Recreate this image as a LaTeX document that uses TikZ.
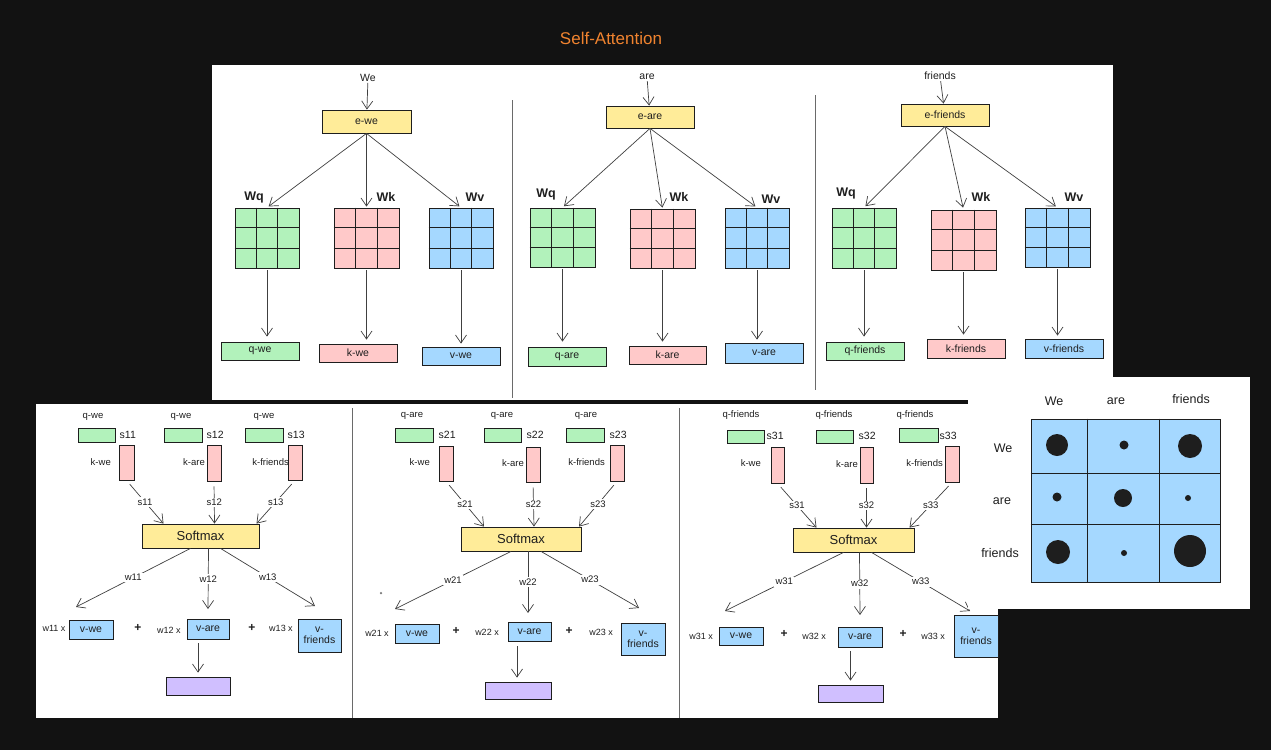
\documentclass[tikz,border=0pt]{standalone}
\usepackage{fontspec}
\setmainfont{Liberation Sans}
\usetikzlibrary{arrows.meta,calc}
\definecolor{bg}{HTML}{121212}
\definecolor{gfill}{HTML}{B2F2BB}
\definecolor{pfill}{HTML}{FFC9C9}
\definecolor{bfill}{HTML}{A5D8FF}
\definecolor{yfill}{HTML}{FFEC99}
\definecolor{vfill}{HTML}{D0BFFF}
\definecolor{ink}{HTML}{1E1E1E}
\definecolor{ttl}{HTML}{F0832F}
\definecolor{divider}{HTML}{6A6A6A}
\tikzset{
  box/.style={draw=ink, line width=0.8pt, inner sep=0pt, font=\fontsize{10.5}{11}\selectfont, text=ink, align=center},
  arr/.style={draw=ink!85, line width=0.7pt, -{Straight Barb[length=8pt,width=11pt]}},
  lbl/.style={font=\fontsize{9.5}{10}\selectfont, text=ink, inner sep=1pt},
  frm/.style={font=\fontsize{9}{10}\selectfont, text=ink, inner sep=1pt},
  slbl/.style={font=\fontsize{10.5}{11}\selectfont, text=ink, inner sep=0.5pt},
  onl/.style={font=\fontsize{9.5}{10}\selectfont, text=ink, fill=white, inner sep=1.5pt},
  word/.style={font=\fontsize{10.5}{11}\selectfont, text=ink, inner sep=1pt},
  wlbl/.style={font=\fontsize{12.5}{13}\selectfont\bfseries, text=ink, inner sep=1pt},
  mlbl/.style={font=\fontsize{12.5}{13}\selectfont, text=ink, inner sep=1pt},
  gridline/.style={draw=ink, line width=0.8pt},
  sep/.style={draw=divider, line width=0.7pt},
  panel/.style={fill=white, draw=none},
  plus/.style={font=\fontsize{12}{13}\selectfont\bfseries, text=ink, inner sep=1pt},
  dot/.style={circle, fill=ink, draw=none, inner sep=0pt},
}
\newcommand{\bx}[7][]{\node[box,#1,minimum width={(#5-#3)*1pt},minimum height={(#6-#4)*1pt}] (#2) at ({(#3+#5)/2},{(#4+#6)/2}) {#7};}
\newcommand{\gridthree}[1]{%
  \foreach \f in {0.3333,0.6667}{%
    \draw[gridline] ($(#1.north west)!\f!(#1.north east)$) -- ($(#1.south west)!\f!(#1.south east)$);
    \draw[gridline] ($(#1.north west)!\f!(#1.south west)$) -- ($(#1.north east)!\f!(#1.south east)$);
  }}
\begin{document}
\begin{tikzpicture}[x=1pt,y=-1pt]
\fill[bg] (0,0) rectangle (1271,750);
\useasboundingbox (0,0) rectangle (1271,750);
\node[font=\fontsize{17}{18}\selectfont, text=ttl] (title) at (611,38) {Self-Attention};

% ================= TOP PANEL =================
\fill[panel] (212,65) rectangle (1113,400);
\draw[sep] (512,100) -- (512,398);
\draw[sep] (815,95) -- (815,390);

% --- section 1: We
\node[word] (w1) at (368,78) {We};
\bx[fill=yfill]{e1}{322}{110}{411}{133}{e-we}
\draw[arr] (w1) -- (e1);
\bx[fill=gfill]{mq1}{235}{208}{299}{268}{} \gridthree{mq1}
\bx[fill=pfill]{mk1}{334}{208}{399}{268}{} \gridthree{mk1}
\bx[fill=bfill]{mv1}{429}{208}{493}{268}{} \gridthree{mv1}
\node[wlbl] (wq1) at (254,197) {Wq};
\node[wlbl] (wk1) at (386,197) {Wk};
\node[wlbl] (wv1) at (475,197) {Wv};
\draw[arr, shorten >=2pt] (e1.south) -- (mq1.north);
\draw[arr, shorten >=1pt] (e1.south) -- (mk1.north);
\draw[arr, shorten >=2pt] (e1.south) -- (mv1.north);
\bx[fill=gfill]{q1}{221}{342}{299}{360}{q-we}
\bx[fill=pfill]{k1}{319}{344}{397}{362}{k-we}
\bx[fill=bfill]{v1}{422}{347}{500}{365}{v-we}
\draw[arr, shorten <=2pt, shorten >=5pt] (mq1.south) -- (mq1.south |- q1.north);
\draw[arr, shorten <=2pt, shorten >=4pt] (mk1.south) -- (mk1.south |- k1.north);
\draw[arr, shorten <=2pt, shorten >=3pt] (mv1.south) -- (mv1.south |- v1.north);

% --- section 2: are
\node[word] (w2) at (647,77) {are};
\bx[fill=yfill]{e2}{606}{106}{694}{128}{e-are}
\draw[arr] (w2) -- (e2);
\bx[fill=gfill]{mq2}{530}{208}{595}{267}{} \gridthree{mq2}
\bx[fill=pfill]{mk2}{630}{209}{695}{268}{} \gridthree{mk2}
\bx[fill=bfill]{mv2}{725}{208}{789}{268}{} \gridthree{mv2}
\node[wlbl] (wq2) at (546,194) {Wq};
\node[wlbl] (wk2) at (679,197) {Wk};
\node[wlbl] (wv2) at (771,199) {Wv};
\draw[arr, shorten >=2pt] (e2.south) -- (mq2.north);
\draw[arr, shorten >=1pt] (e2.south) -- (mk2.north);
\draw[arr, shorten >=2pt] (e2.south) -- (mv2.north);
\bx[fill=gfill]{q2}{528}{347}{606}{366}{q-are}
\bx[fill=pfill]{k2}{629}{346}{706}{364}{k-are}
\bx[fill=bfill]{v2}{725}{343}{803}{363}{v-are}
\draw[arr, shorten <=2pt, shorten >=5pt] (mq2.south) -- (mq2.south |- q2.north);
\draw[arr, shorten <=2pt, shorten >=4pt] (mk2.south) -- (mk2.south |- k2.north);
\draw[arr, shorten <=2pt, shorten >=3pt] (mv2.south) -- (mv2.south |- v2.north);

% --- section 3: friends
\node[word] (w3) at (940,76) {friends};
\bx[fill=yfill]{e3}{901}{104}{989}{126}{e-friends}
\draw[arr] (w3) -- (e3);
\bx[fill=gfill]{mq3}{832}{208}{896}{268}{} \gridthree{mq3}
\bx[fill=pfill]{mk3}{931}{210}{996}{270}{} \gridthree{mk3}
\bx[fill=bfill]{mv3}{1025}{208}{1090}{267}{} \gridthree{mv3}
\node[wlbl] (wq3) at (846,193) {Wq};
\node[wlbl] (wk3) at (981,197) {Wk};
\node[wlbl] (wv3) at (1074,197) {Wv};
\draw[arr, shorten >=2pt] (e3.south) -- (mq3.north);
\draw[arr, shorten >=2pt] (e3.south) -- (mk3.north);
\draw[arr, shorten >=2pt] (e3.south) -- (mv3.north);
\bx[fill=gfill]{q3}{826}{342}{904}{360}{q-friends}
\bx[fill=pfill]{k3}{927}{339}{1005}{358}{k-friends}
\bx[fill=bfill]{v3}{1025}{339}{1103}{358}{v-friends}
\draw[arr, shorten <=2pt, shorten >=5pt] (mq3.south) -- (mq3.south |- q3.north);
\draw[arr, shorten <=2pt, shorten >=4pt] (mk3.south) -- (mk3.south |- k3.north);
\draw[arr, shorten <=2pt, shorten >=3pt] (mv3.south) -- (mv3.south |- v3.north);

% ================= BOTTOM PANEL =================
\fill[panel] (36,404) rectangle (998,718);
\draw[sep] (352,408) -- (352,718);
\draw[sep] (679,408) -- (679,718);

% --- section 1
\node[lbl] (ql11) at (93,417) {q-we};
\node[lbl] (ql12) at (181,417) {q-we};
\node[lbl] (ql13) at (264,417) {q-we};
\bx[fill=gfill]{g11}{78}{428}{115}{442}{}
\bx[fill=gfill]{g12}{164}{428}{202}{442}{}
\bx[fill=gfill]{g13}{245}{428}{283}{442}{}
\node[slbl, anchor=west] (sa11) at (119,435) {s11};
\node[slbl, anchor=west] (sa12) at (206,435) {s12};
\node[slbl, anchor=west] (sa13) at (287,435) {s13};
\bx[fill=pfill]{p11}{119}{445}{134}{480}{}
\bx[fill=pfill]{p12}{207}{445}{221}{481}{}
\bx[fill=pfill]{p13}{288}{445}{302}{480}{}
\node[lbl, anchor=east] (kl11) at (112,462) {k-we};
\node[lbl, anchor=east] (kl12) at (206,462) {k-are};
\node[lbl, anchor=east] (kl13) at (290,462) {k-friends};
\bx[fill=yfill, font=\fontsize{13}{14}\selectfont]{sm1}{142}{524}{259}{548}{Softmax}
\draw[arr, shorten <=5pt] (p11.south) -- node[onl]{s11} ($(sm1.north)+(-37,0)$);
\draw[arr, shorten <=5pt] (p12.south) -- node[onl]{s12} ($(sm1.north)+(14,0)$);
\draw[arr, shorten <=5pt] (p13.south) -- node[onl]{s13} ($(sm1.north)+(56,0)$);
\coordinate (t11) at (76,607);
\coordinate (t12) at (208,609);
\coordinate (t13) at (315,606);
\draw[arr] ($(sm1.south)+(-10,0)$) -- node[onl]{w11} (t11);
\draw[arr] ($(sm1.south)+(8,0)$) -- node[onl]{w12} (t12);
\draw[arr] ($(sm1.south)+(20,0)$) -- node[onl]{w13} (t13);
\node[frm] (x11) at (54,628) {w11 x};
\bx[fill=bfill]{vw1}{69}{620}{113}{639}{v-we}
\node[plus] (pa1) at (138,628) {+};
\node[frm] (x12) at (169,630) {w12 x};
\bx[fill=bfill]{va1}{187}{619}{229}{639}{v-are}
\node[plus] (pb1) at (252,628) {+};
\node[frm] (x13) at (281,628) {w13 x};
\bx[fill=bfill]{vf1}{298}{619}{341}{652}{v-\\friends}
\bx[fill=vfill]{pu1}{166}{677}{230}{695}{}
\draw[arr, shorten <=4pt, shorten >=4pt] (pu1.north |- va1.south) -- (pu1.north);

% --- section 2
\node[lbl] (ql21) at (412,416) {q-are};
\node[lbl] (ql22) at (502,416) {q-are};
\node[lbl] (ql23) at (586,416) {q-are};
\bx[fill=gfill]{g21}{395}{428}{433}{442}{}
\bx[fill=gfill]{g22}{484}{428}{521}{442}{}
\bx[fill=gfill]{g23}{566}{428}{604}{442}{}
\node[slbl, anchor=west] (sa21) at (438,435) {s21};
\node[slbl, anchor=west] (sa22) at (526,435) {s22};
\node[slbl, anchor=west] (sa23) at (609,435) {s23};
\bx[fill=pfill]{p21}{439}{446}{453}{481}{}
\bx[fill=pfill]{p22}{526}{447}{540}{482}{}
\bx[fill=pfill]{p23}{610}{445}{624}{481}{}
\node[lbl, anchor=east] (kl21) at (431,462) {k-we};
\node[lbl, anchor=east] (kl22) at (525,463) {k-are};
\node[lbl, anchor=east] (kl23) at (606,462) {k-friends};
\bx[fill=yfill, font=\fontsize{13}{14}\selectfont]{sm2}{461}{527}{581}{551}{Softmax}
\draw[arr, shorten <=5pt] (p21.south) -- node[onl]{s21} ($(sm2.north)+(-37,0)$);
\draw[arr, shorten <=5pt] (p22.south) -- node[onl]{s22} ($(sm2.north)+(13,0)$);
\draw[arr, shorten <=5pt] (p23.south) -- node[onl]{s23} ($(sm2.north)+(58,0)$);
\coordinate (t21) at (395,609);
\coordinate (t22) at (528,613);
\coordinate (t23) at (639,608);
\draw[arr] ($(sm2.south)+(-10,0)$) -- node[onl]{w21} (t21);
\draw[arr] ($(sm2.south)+(7,0)$) -- node[onl]{w22} (t22);
\draw[arr] ($(sm2.south)+(20,0)$) -- node[onl]{w23} (t23);
\node[dot, minimum size=2.5pt, fill=ink!60] (stray) at (381,593) {};
\node[frm] (x21) at (377,633) {w21 x};
\bx[fill=bfill]{vw2}{395}{624}{439}{643}{v-we}
\node[plus] (pa2) at (456,631) {+};
\node[frm] (x22) at (487,632) {w22 x};
\bx[fill=bfill]{va2}{508}{622}{551}{641}{v-are}
\node[plus] (pb2) at (569,631) {+};
\node[frm] (x23) at (601,632) {w23 x};
\bx[fill=bfill]{vf2}{621}{623}{665}{655}{v-\\friends}
\bx[fill=vfill]{pu2}{485}{682}{551}{699}{}
\draw[arr, shorten <=5pt, shorten >=4pt] ($(pu2.north |- va2.south)+(-1,0)$) -- ($(pu2.north)+(-1,0)$);

% --- section 3
\node[lbl] (ql31) at (741,415) {q-friends};
\node[lbl] (ql32) at (834,415) {q-friends};
\node[lbl] (ql33) at (915,415) {q-friends};
\bx[fill=gfill]{g31}{727}{430}{764}{443}{}
\bx[fill=gfill]{g32}{816}{430}{853}{443}{}
\bx[fill=gfill]{g33}{899}{428}{938}{442}{}
\node[slbl, anchor=west] (sa31) at (766,436) {s31};
\node[slbl, anchor=west] (sa32) at (858,436) {s32};
\node[slbl, anchor=west] (sa33) at (939,436) {s33};
\bx[fill=pfill]{p31}{771}{447}{784}{483}{}
\bx[fill=pfill]{p32}{860}{447}{873}{483}{}
\bx[fill=pfill]{p33}{945}{446}{959}{482}{}
\node[lbl, anchor=east] (kl31) at (762,463) {k-we};
\node[lbl, anchor=east] (kl32) at (859,464) {k-are};
\node[lbl, anchor=east] (kl33) at (944,463) {k-friends};
\bx[fill=yfill, font=\fontsize{13}{14}\selectfont]{sm3}{793}{528}{914}{552}{Softmax}
\draw[arr, shorten <=5pt] (p31.south) -- node[onl]{s31} ($(sm3.north)+(-37,0)$);
\draw[arr, shorten <=5pt] (p32.south) -- node[onl]{s32} ($(sm3.north)+(13,0)$);
\draw[arr, shorten <=5pt] (p33.south) -- node[onl]{s33} ($(sm3.north)+(56,0)$);
\coordinate (t31) at (725,611);
\coordinate (t32) at (860,615);
\coordinate (t33) at (970,611);
\draw[arr] ($(sm3.south)+(-10,0)$) -- node[onl]{w31} (t31);
\draw[arr] ($(sm3.south)+(6,0)$) -- node[onl]{w32} (t32);
\draw[arr] ($(sm3.south)+(18,0)$) -- node[onl]{w33} (t33);
\node[frm] (x31) at (701,636) {w31 x};
\bx[fill=bfill]{vw3}{719}{627}{763}{645}{v-we}
\node[plus] (pa3) at (784,634) {+};
\node[frm] (x32) at (814,636) {w32 x};
\bx[fill=bfill]{va3}{838}{627}{882}{647}{v-are}
\node[plus] (pb3) at (903,634) {+};
\node[frm] (x33) at (933,636) {w33 x};
\bx[fill=bfill]{vf3}{954}{615}{998}{657}{v-\\friends}
\bx[fill=vfill]{pu3}{818}{685}{883}{702}{}
\draw[arr, shorten <=4pt, shorten >=4pt] (pu3.north |- va3.south) -- (pu3.north);

% ================= ATTENTION MATRIX PANEL =================
\fill[panel] (968,377) rectangle (1250,609);
\bx[fill=bfill]{am}{1031}{419}{1220}{582}{}
\draw[gridline] (am.north -| 1087,0) -- (am.south -| 1087,0);
\draw[gridline] (am.north -| 1159,0) -- (am.south -| 1159,0);
\draw[gridline] (am.west |- 0,473) -- (am.east |- 0,473);
\draw[gridline] (am.west |- 0,524) -- (am.east |- 0,524);
\node[mlbl] (cw) at (1054,401) {We};
\node[mlbl] (ca) at (1116,401) {are};
\node[mlbl] (cf) at (1191,399) {friends};
\node[mlbl] (rw) at (1003,448) {We};
\node[mlbl] (ra) at (1002,501) {are};
\node[mlbl] (rf) at (1000,553) {friends};
\node[dot, minimum size=22pt] (d11) at (1057,445) {};
\node[dot, minimum size=9pt] (d12) at (1124,445) {};
\node[dot, minimum size=24pt] (d13) at (1190,446) {};
\node[dot, minimum size=9pt] (d21) at (1057,497) {};
\node[dot, minimum size=18pt] (d22) at (1123,498) {};
\node[dot, minimum size=6pt] (d23) at (1188,498) {};
\node[dot, minimum size=24pt] (d31) at (1058,552) {};
\node[dot, minimum size=6pt] (d32) at (1124,553) {};
\node[dot, minimum size=32pt] (d33) at (1190,551) {};
\end{tikzpicture}
\end{document}
